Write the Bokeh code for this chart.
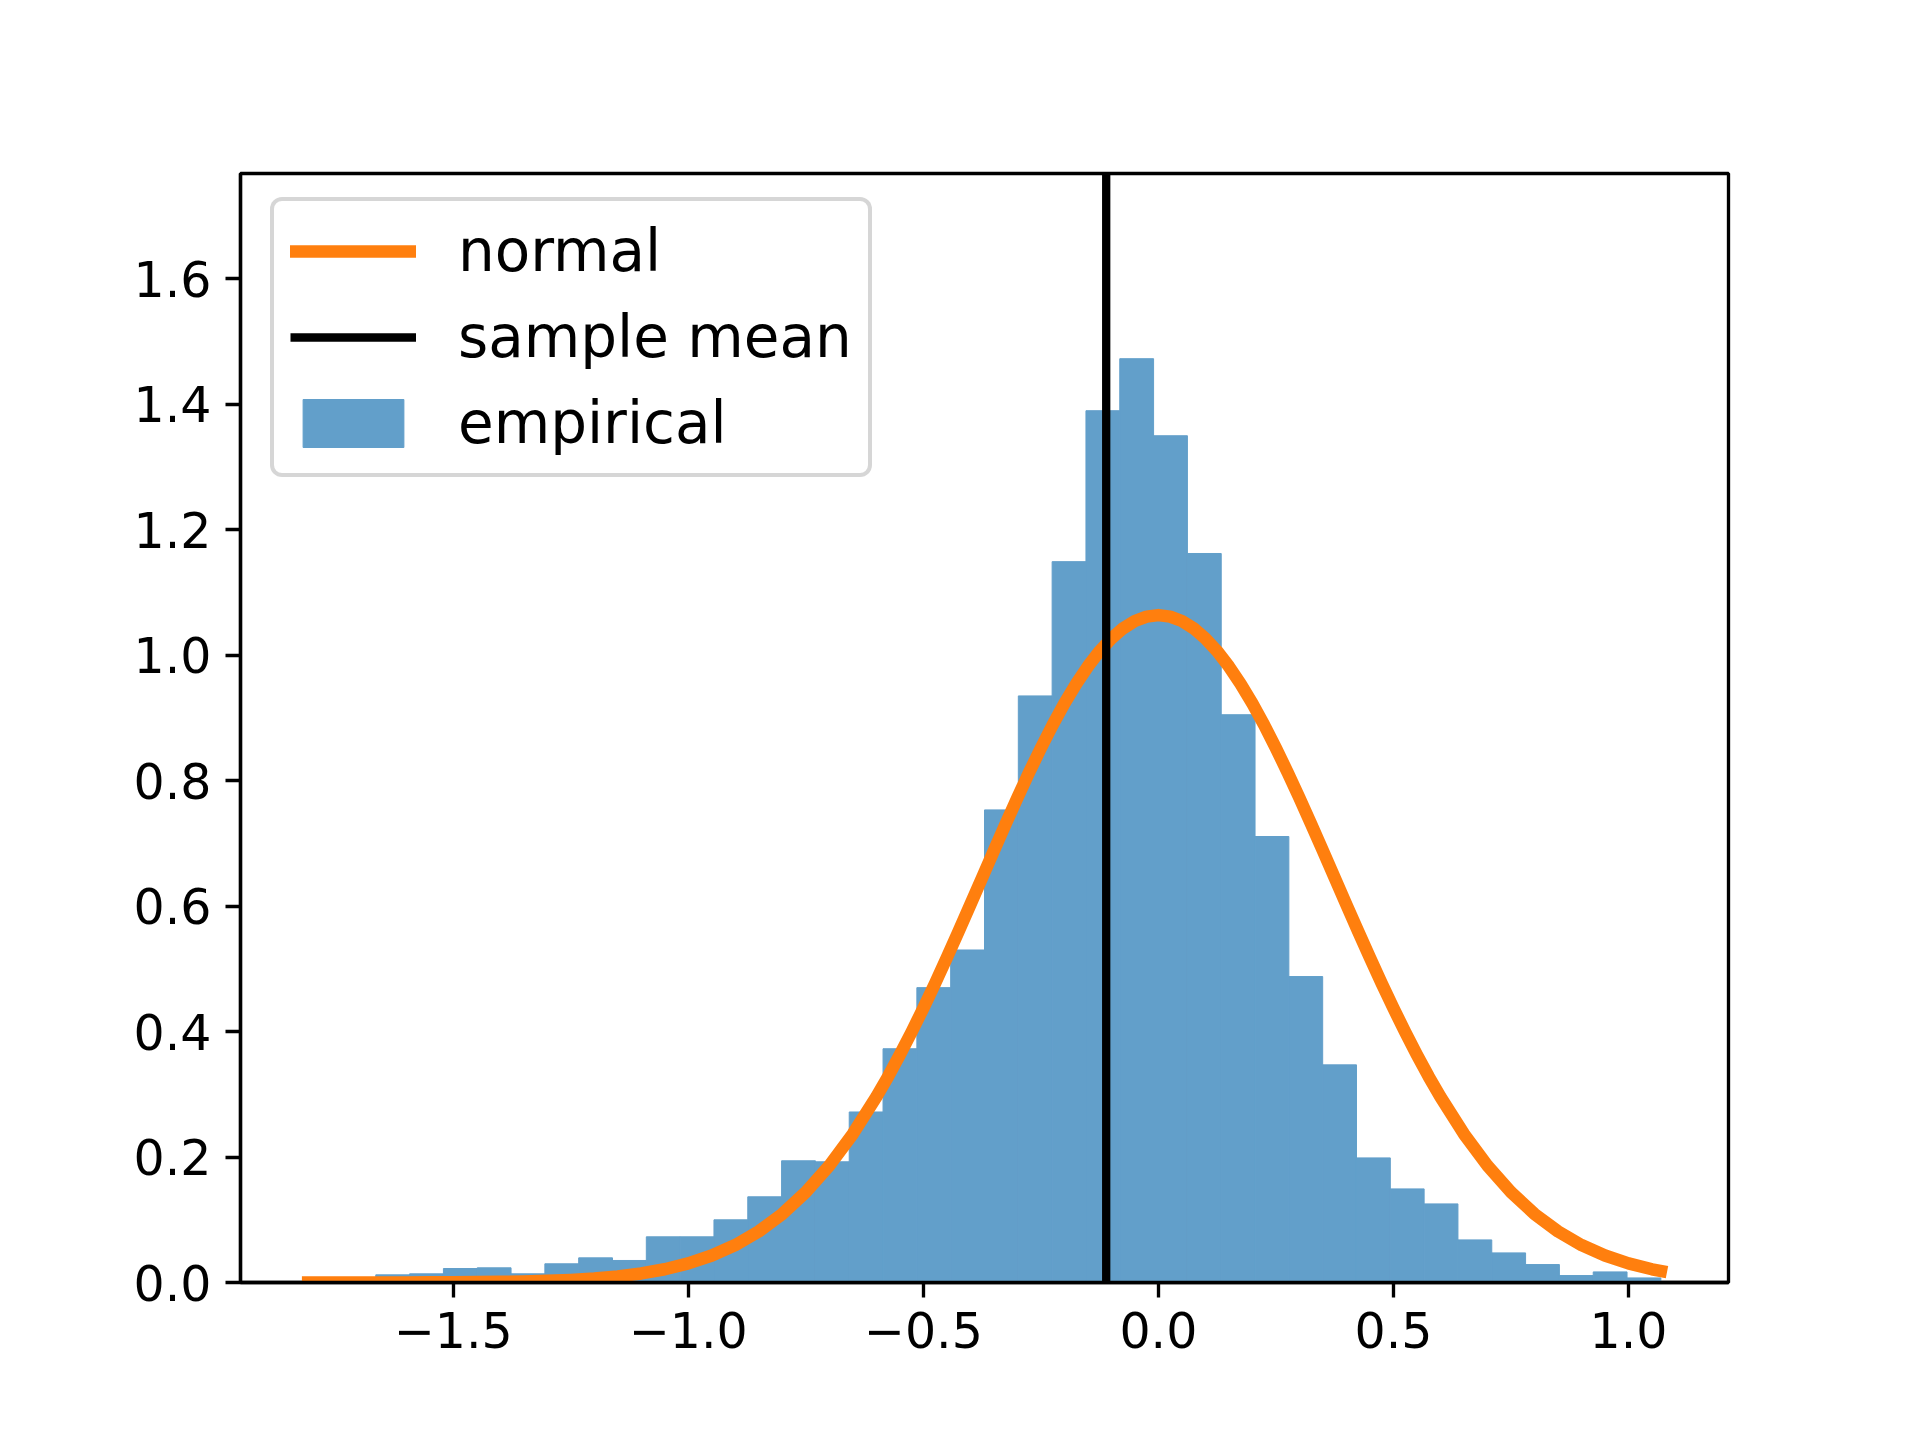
from bokeh.plotting import figure
from bokeh.models import Range1d, FixedTicker, Legend, LegendItem
from bokeh.embed import file_html
from bokeh.resources import INLINE

# ---- data ----
bin_start = -1.8087
bin_width = 0.07194
density = [0.0040, 0.0060, 0.0122, 0.0138, 0.0223, 0.0234, 0.0138, 0.0298,
           0.0393, 0.0351, 0.0728, 0.0728, 0.0999, 0.1366, 0.1940, 0.1924,
           0.2718, 0.3726, 0.4700, 0.5300, 0.7533, 0.9350, 1.1490, 1.3896,
           1.4725, 1.3497, 1.1620, 0.9050, 0.7109, 0.4877, 0.3469, 0.1986,
           0.1492, 0.1253, 0.0679, 0.0472, 0.0286, 0.0111, 0.0169, 0.0073]

curve_x = [-1.8087, -1.75, -1.70, -1.65, -1.60, -1.55, -1.50, -1.45, -1.40,
           -1.35, -1.30, -1.25, -1.20, -1.15, -1.10, -1.05, -1.00, -0.95,
           -0.90, -0.85, -0.80, -0.75, -0.70, -0.65, -0.60, -0.575, -0.55,
           -0.525, -0.50, -0.475, -0.45, -0.425, -0.40, -0.375, -0.35, -0.325,
           -0.30, -0.275, -0.25, -0.225, -0.20, -0.175, -0.15, -0.125, -0.10,
           -0.075, -0.05, -0.025, 0.00, 0.025, 0.05, 0.075, 0.10, 0.125, 0.15,
           0.175, 0.20, 0.225, 0.25, 0.275, 0.30, 0.325, 0.35, 0.375, 0.40,
           0.425, 0.45, 0.475, 0.50, 0.525, 0.55, 0.575, 0.60, 0.65, 0.70,
           0.75, 0.80, 0.85, 0.90, 0.95, 1.00, 1.05, 1.0689]
curve_y = [0.0000, 0.0000, 0.0000, 0.0001, 0.0001, 0.0002, 0.0004, 0.0006,
           0.0010, 0.0016, 0.0026, 0.0041, 0.0064, 0.0097, 0.0144, 0.0211,
           0.0304, 0.0430, 0.0597, 0.0815, 0.1093, 0.1440, 0.1863, 0.2368,
           0.2958, 0.3283, 0.3629, 0.3993, 0.4373, 0.4769, 0.5178, 0.5597,
           0.6023, 0.6452, 0.6882, 0.7307, 0.7725, 0.8130, 0.8518, 0.8886,
           0.9228, 0.9540, 0.9820, 1.0063, 1.0266, 1.0427, 1.0544, 1.0614,
           1.0638, 1.0614, 1.0544, 1.0427, 1.0266, 1.0063, 0.9820, 0.9540,
           0.9228, 0.8886, 0.8518, 0.8130, 0.7725, 0.7307, 0.6882, 0.6452,
           0.6023, 0.5597, 0.5178, 0.4769, 0.4373, 0.3993, 0.3629, 0.3283,
           0.2958, 0.2368, 0.1863, 0.1440, 0.1093, 0.0815, 0.0597, 0.0430,
           0.0304, 0.0211, 0.0183]

sample_mean = -0.111

x_ticks = [-1.5, -1.0, -0.5, 0.0, 0.5, 1.0]
x_tick_labels = ["\u22121.5", "\u22121.0", "\u22120.5", "0.0", "0.5", "1.0"]
y_ticks = [0.0, 0.2, 0.4, 0.6, 0.8, 1.0, 1.2, 1.4, 1.6]
y_tick_labels = ["0.0", "0.2", "0.4", "0.6", "0.8", "1.0", "1.2", "1.4", "1.6"]

x_limits = (-1.9526, 1.2128)
y_limits = (0.0, 1.7677)

legend_labels = ["normal", "sample mean", "empirical"]

# ---- derived ----
edges = [bin_start + i * bin_width for i in range(len(density) + 1)]

FONT = "DejaVu Sans"
BAR_COLOR = "#629fca"   # tab:blue at 0.7 alpha on white

p = figure(width=1904, height=1424, output_backend="svg", toolbar_location=None,
           x_range=Range1d(*x_limits), y_range=Range1d(*y_limits),
           min_border_left=240, min_border_right=176,
           min_border_top=173, min_border_bottom=142,
           background_fill_color="white", border_fill_color="white")

bars = p.quad(left=edges[:-1], right=edges[1:], bottom=0, top=density,
              fill_color=BAR_COLOR, line_color=BAR_COLOR, line_width=1)

normal_line = p.line(curve_x, curve_y, line_color="#ff7f0e", line_width=12.5,
                     line_cap="square", line_join="round")

mean_line = p.line([sample_mean, sample_mean], list(y_limits), line_color="black",
                   line_width=8.3, line_cap="butt")

legend = Legend(items=[LegendItem(label=legend_labels[0], renderers=[normal_line]),
                       LegendItem(label=legend_labels[1], renderers=[mean_line]),
                       LegendItem(label=legend_labels[2], renderers=[bars])],
                location=(30, 805), margin=0, padding=16, spacing=18,
                glyph_width=126, glyph_height=60, label_height=60,
                label_standoff=42,
                label_text_font=FONT, label_text_font_size="58px",
                label_text_color="black",
                border_line_color="#cccccc", border_line_width=4,
                border_line_alpha=0.8, border_radius=12,
                background_fill_color="white", background_fill_alpha=0.8)
p.add_layout(legend, "center")

p.xgrid.visible = False
p.ygrid.visible = False
p.outline_line_color = "black"
p.outline_line_width = 3.33

p.xaxis.ticker = FixedTicker(ticks=x_ticks)
p.yaxis.ticker = FixedTicker(ticks=y_ticks)
p.xaxis.major_label_overrides = dict(zip(x_ticks, x_tick_labels))
p.yaxis.major_label_overrides = dict(zip(y_ticks, y_tick_labels))

for ax in (p.xaxis[0], p.yaxis[0]):
    ax.axis_line_width = 3.33
    ax.axis_line_color = "black"
    ax.major_tick_line_width = 3.33
    ax.major_tick_line_color = "black"
    ax.major_tick_out = 15
    ax.major_tick_in = 0
    ax.minor_tick_out = 0
    ax.minor_tick_in = 0
    ax.minor_tick_line_color = None
    ax.major_label_text_font = FONT
    ax.major_label_text_font_size = "49px"
    ax.major_label_text_color = "black"
    ax.major_label_standoff = 14

open("out.html", "w").write(file_html(p, INLINE))
